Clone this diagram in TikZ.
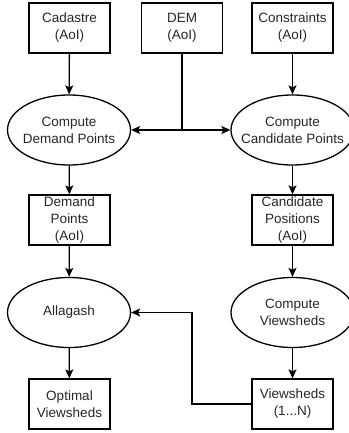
\documentclass[tikz,border=0pt]{standalone}
\usepackage{fontspec}
\setmainfont{Liberation Sans}
\usetikzlibrary{shapes.geometric,arrows.meta}
\begin{document}
\begin{tikzpicture}[x=1pt,y=-1pt,
  txt/.style={font=\fontsize{13.5}{17}\selectfont, align=center, text=black!85},
  databox/.style={txt, draw, line width=1.3pt, minimum width=81pt, minimum height=50pt, inner sep=0pt},
  procell/.style={ellipse, draw, line width=1.3pt, minimum width=123pt, minimum height=70pt, inner sep=0pt,
    label={[txt]center:#1}},
  flow/.style={line width=1.3pt, -{Stealth[length=9pt,width=8pt,inset=2pt]}},
  wire/.style={line width=1.3pt}]
\useasboundingbox (0,0) rectangle (348,433);
% inputs
\node[databox] (cad) at (69.5,28) {Cadastre\\(AoI)};
\node[databox] (dem) at (182,28) {DEM\\(AoI)};
\node[databox] (con) at (292.5,28) {Constraints\\(AoI)};
% first processing stage (fixed-size ellipses, text as centred labels)
\node[procell={Compute\\Demand Points}] (cdp) at (69,130) {};
\node[procell={Compute\\Candidate Points}] (ccp) at (292.5,130) {};
% intermediate data
\node[databox] (dp) at (69.5,220) {Demand\\Points\\(AoI)};
\node[databox] (cp) at (292.5,220) {Candidate\\Positions\\(AoI)};
% second processing stage
\node[procell={Allagash}] (alg) at (69,312.5) {};
\node[procell={Compute\\Viewsheds}] (cvs) at (292.5,312.5) {};
% outputs
\node[databox] (ov) at (69.5,404) {Optimal\\Viewsheds};
\node[databox] (vs) at (292.5,404) {Viewsheds\\(1...N)};
% connectors
\draw[flow] (cad) -- (cdp);
\draw[flow] (con) -- (ccp);
\coordinate (split) at (dem.south |- cdp.east);
\draw[wire] (dem.south) -- (split);
\draw[flow] (split) -- (cdp.east);
\draw[flow] (split) -- (ccp.west);
\draw[flow] (cdp) -- (dp);
\draw[flow] (ccp) -- (cp);
\draw[flow] (dp) -- (alg);
\draw[flow] (cp) -- (cvs);
\draw[flow] (alg) -- (ov);
\draw[flow] (cvs) -- (vs);
\coordinate (bend) at (192,404);
\draw[flow] (vs.west) -- (bend) |- (alg.east);
\end{tikzpicture}
\end{document}
